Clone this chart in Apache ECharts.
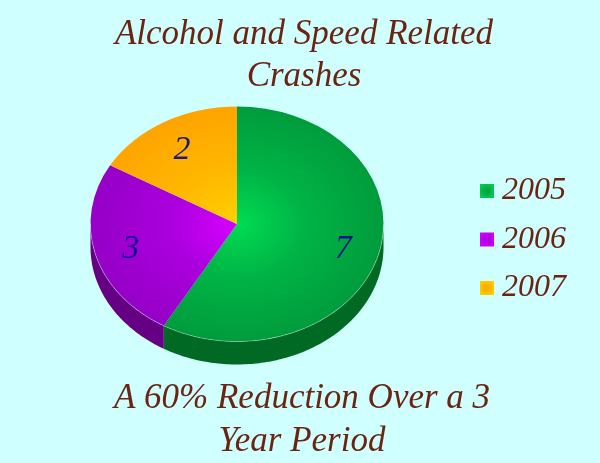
<!DOCTYPE html>
<html>
<head>
<meta charset="utf-8">
<style>html,body{margin:0;padding:0;background:#d0ffff}#c{width:600px;height:463px}</style>
<script src="https://cdn.jsdelivr.net/npm/echarts@6/dist/echarts.min.js"></script>
</head>
<body>
<div id="c"></div>
<script>
const years = ['2005', '2006', '2007'];
const crashes = [7, 3, 2];
const titleText = 'Alcohol and Speed Related\nCrashes';
const captionText = 'A 60% Reduction Over a 3\nYear Period';
const centerColors = ['#00dc52', '#d800ff', '#ffd000'];
const midColors = ['#00b446', '#ab00de', '#ffb800'];
const edgeColors = ['#009c3c', '#9500c6', '#ffa400'];
const sideColors = ['#006a24', '#650085', '#a86a00'];
const swatchCenter = ['#009a3c', '#a800d8', '#ffa300'];
const swatchEdge = ['#00d050', '#d000ff', '#ffd000'];

const cx = 237, cy = 224, rx = 146.5, ry = 117.5, depth = 23, labelK = 0.75;
const fontFam = '"Liberation Serif", serif';
const textColor = '#6a2410';
const total = crashes.reduce((a, b) => a + b, 0);

function pt(a, dy) { return [cx + rx * Math.sin(a), cy - ry * Math.cos(a) + (dy || 0)]; }

function makeSeries(i) {
  const before = crashes.slice(0, i).reduce((a, b) => a + b, 0);
  const a0 = before / total * 2 * Math.PI;
  const a1 = (before + crashes[i]) / total * 2 * Math.PI;
  return {
    type: 'custom',
    name: years[i],
    coordinateSystem: 'none',
    silent: true,
    animation: false,
    itemStyle: { color: edgeColors[i] },
    data: [crashes[i]],
    renderItem: function () {
      const children = [];
      const lo = Math.max(a0, Math.PI / 2), hi = Math.min(a1, 3 * Math.PI / 2);
      const up = [];
      if (hi > lo) {
        const down = [];
        const steps = Math.ceil((hi - lo) / (Math.PI / 180));
        for (let s = 0; s <= steps; s++) {
          const a = lo + (hi - lo) * s / steps;
          up.push(pt(a, 0));
          down.unshift(pt(a, depth));
        }
        children.push({ type: 'polygon', shape: { points: up.concat(down) }, style: { fill: sideColors[i] } });
      }
      children.push({
        type: 'sector',
        x: cx, y: cy, scaleY: ry / rx,
        shape: { cx: 0, cy: 0, r0: 0, r: rx, startAngle: a0 - Math.PI / 2, endAngle: a1 - Math.PI / 2, clockwise: true },
        style: {
          fill: new echarts.graphic.RadialGradient(0, 0, rx, [
            { offset: 0, color: centerColors[i] },
            { offset: 0.45, color: midColors[i] },
            { offset: 1, color: edgeColors[i] }
          ], true)
        }
      });
      if (up.length) {
        children.push({ type: 'polyline', shape: { points: up }, style: { fill: null, stroke: 'rgba(255,255,255,0.3)', lineWidth: 1 } });
      }
      const mid = (a0 + a1) / 2;
      children.push({
        type: 'text',
        x: cx + rx * labelK * Math.sin(mid),
        y: cy - ry * labelK * Math.cos(mid) + 2,
        style: {
          text: String(crashes[i]),
          font: 'italic 34px ' + fontFam,
          fill: 'rgba(0,0,145,0.87)',
          align: 'center',
          verticalAlign: 'middle'
        }
      });
      return { type: 'group', children };
    }
  };
}

const chart = echarts.init(document.getElementById('c'), null, { renderer: 'canvas' });
chart.setOption({
  backgroundColor: '#d0ffff',
  animation: false,
  title: [
    { text: titleText, left: 299, top: 9, textAlign: 'center',
      textStyle: { fontFamily: fontFam, fontStyle: 'italic', fontWeight: 'normal', fontSize: 35, lineHeight: 42, color: textColor } },
    { text: captionText, left: 297, top: 372, textAlign: 'center',
      textStyle: { fontFamily: fontFam, fontStyle: 'italic', fontWeight: 'normal', fontSize: 35, lineHeight: 43, color: textColor } }
  ],
  legend: {
    orient: 'vertical',
    left: 475,
    top: 167,
    itemWidth: 14,
    itemHeight: 14,
    itemGap: 10.5,
    selectedMode: false,
    icon: 'rect',
    textStyle: { fontFamily: fontFam, fontStyle: 'italic', fontSize: 32, color: textColor, lineHeight: 38, padding: [0, 0, 0, 3] },
    data: years.map((y, i) => ({
      name: y,
      itemStyle: {
        color: {
          type: 'radial', x: 0.5, y: 0.5, r: 0.6,
          colorStops: [{ offset: 0, color: swatchCenter[i] }, { offset: 1, color: swatchEdge[i] }]
        }
      }
    }))
  },
  series: years.map((_, i) => makeSeries(i))
});
</script>
</body>
</html>
